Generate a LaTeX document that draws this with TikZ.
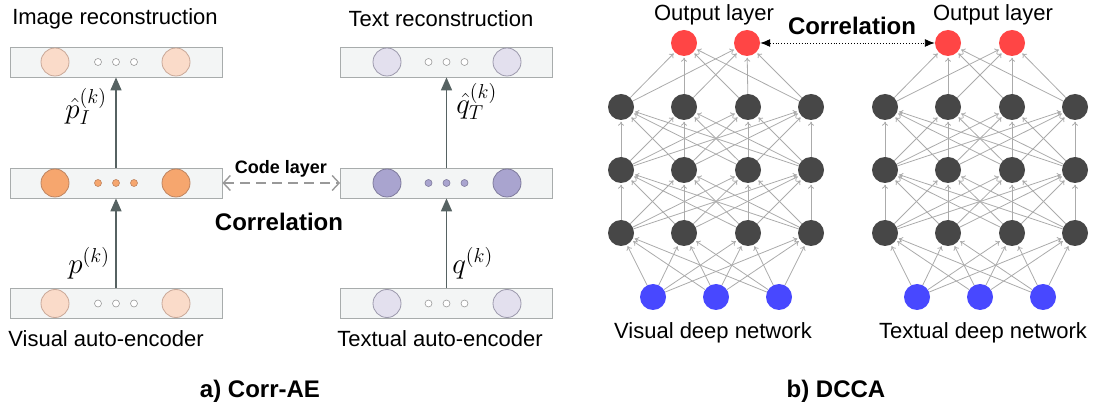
\documentclass[tikz,border=0pt]{standalone}
\usepackage{fontspec}
\setmainfont{Liberation Sans}
\usetikzlibrary{arrows.meta}
\definecolor{boxfill}{HTML}{F3F5F5}
\definecolor{boxdraw}{HTML}{A8ACAC}
\definecolor{peach}{HTML}{FADBC9}
\definecolor{peachd}{HTML}{C9A898}
\definecolor{orng}{HTML}{F6A66E}
\definecolor{orngd}{HTML}{BE8460}
\definecolor{lav}{HTML}{E3E0EE}
\definecolor{lavd}{HTML}{9C99AC}
\definecolor{purp}{HTML}{A9A4CF}
\definecolor{purpd}{HTML}{7E7A9C}
\definecolor{arrowc}{HTML}{566262}
\definecolor{hid}{HTML}{474747}
\definecolor{outc}{HTML}{FF4545}
\definecolor{inc}{HTML}{4848FF}
\definecolor{edgec}{HTML}{ABABAB}
\tikzset{
  lbl/.style={font=\fontsize{22}{26}\selectfont, inner sep=0pt},
  blbl/.style={font=\fontsize{24}{28}\selectfont\bfseries, inner sep=0pt},
  mlbl/.style={font=\fontsize{20}{24}\selectfont, inner sep=0pt, scale=1.4},
  layerbox/.style={draw=boxdraw, fill=boxfill, line width=0.8pt, minimum width=212pt, minimum height=30pt, inner sep=0pt},
  bigc/.style={circle, minimum size=28pt, inner sep=0pt, line width=0.8pt},
  smallc/.style={circle, minimum size=7pt, inner sep=0pt, line width=0.6pt},
  uparrow/.style={draw=arrowc, line width=1.6pt, -{Triangle[length=13pt,width=11pt]}},
  codearrow/.style={draw=gray!80, line width=1.4pt, dash pattern=on 10pt off 6pt, {Straight Barb[length=7pt,width=15pt]}-{Straight Barb[length=7pt,width=15pt]}},
  neuron/.style={circle, minimum size=26pt, inner sep=0pt},
  hidn/.style={neuron, fill=hid},
  outn/.style={neuron, fill=outc},
  inn/.style={neuron, fill=inc},
  edge/.style={draw=edgec, line width=0.8pt, -{To[length=4pt,width=6pt]}, shorten >=1.5pt},
  corr/.style={draw=black, line width=0.9pt, dotted, {Latex[length=10pt,width=8pt]}-{Latex[length=10pt,width=8pt]}}
}
\begin{document}
\begin{tikzpicture}[x=1pt,y=-1pt]
\useasboundingbox (0,0) rectangle (1094,411);
% ---------- a) Corr-AE ----------
\foreach \side/\cx in {L/116, R/446.5} {
  \node[layerbox] (\side1) at (\cx,62) {};
  \node[layerbox] (\side2) at (\cx,183) {};
  \node[layerbox] (\side3) at (\cx,303.5) {};
}
% circles
\foreach \b/\y in {1/62, 3/303.5} {
  \node[bigc, draw=peachd, fill=peach] (Lc\b a) at (55,\y) {};
  \node[bigc, draw=peachd, fill=peach] (Lc\b b) at (176,\y) {};
  \node[bigc, draw=lavd, fill=lav] (Rc\b a) at (387,\y) {};
  \node[bigc, draw=lavd, fill=lav] (Rc\b b) at (507,\y) {};
  \foreach \k/\dx in {1/-18, 2/0, 3/18} {
    \node[smallc, draw=gray!80, fill=white] (Ld\b\k) at (116+\dx,\y) {};
    \node[smallc, draw=gray!80, fill=white] (Rd\b\k) at (446.5+\dx,\y) {};
  }
}
\node[bigc, draw=orngd, fill=orng] (Lc2a) at (55,183) {};
\node[bigc, draw=orngd, fill=orng] (Lc2b) at (176,183) {};
\node[bigc, draw=purpd, fill=purp] (Rc2a) at (387,183) {};
\node[bigc, draw=purpd, fill=purp] (Rc2b) at (507,183) {};
\foreach \k/\dx in {1/-18, 2/0, 3/18} {
  \node[smallc, draw=orngd, fill=orng] (Ld2\k) at (116+\dx,183) {};
  \node[smallc, draw=purpd, fill=purp] (Rd2\k) at (446.5+\dx,183) {};
}
% vertical arrows
\draw[uparrow] (L2.north) -- (L1.south);
\draw[uparrow] (L3.north) -- (L2.south);
\draw[uparrow] (R2.north) -- (R1.south);
\draw[uparrow] (R3.north) -- (R2.south);
% code layer
\draw[codearrow] (L2.east) -- (R2.west);
\node[blbl, font=\fontsize{18}{22}\selectfont\bfseries] (code) at (281,169) {Code layer};
\node[blbl] (corrA) at (279,222) {Correlation};
% labels
\node[lbl] (t1) at (115,19) {Image reconstruction};
\node[lbl] (t2) at (441,19) {Text reconstruction};
\node[lbl] (t3) at (106,339) {Visual auto-encoder};
\node[lbl] (t4) at (440,339) {Textual auto-encoder};
\node[mlbl, anchor=east] (m1) at (107,106) {$\hat{p}_I^{(k)}$};
\node[mlbl, anchor=west] (m2) at (456,101) {$\hat{q}_T^{(k)}$};
\node[mlbl, anchor=east] (m3) at (110,263) {$p^{(k)}$};
\node[mlbl, anchor=west] (m4) at (452,263) {$q^{(k)}$};
\node[blbl] (capA) at (260,391) {a) Corr-AE};
% ---------- b) DCCA ----------
\foreach \net/\a/\b/\c/\d/\oa/\ob/\ia/\ib/\ic in {V/621/684/748/811/684/747/653/716/779, T/885/948/1012/1075/948/1012/917/980/1043} {
  \foreach \r/\y in {1/107, 2/170, 3/233} {
    \node[hidn] (\net h\r-1) at (\a,\y) {};
    \node[hidn] (\net h\r-2) at (\b,\y) {};
    \node[hidn] (\net h\r-3) at (\c,\y) {};
    \node[hidn] (\net h\r-4) at (\d,\y) {};
  }
  \node[outn] (\net o-1) at (\oa,43) {};
  \node[outn] (\net o-2) at (\ob,43) {};
  \node[inn] (\net i-1) at (\ia,297) {};
  \node[inn] (\net i-2) at (\ib,297) {};
  \node[inn] (\net i-3) at (\ic,297) {};
  \foreach \s in {1,2,3} \foreach \t in {1,2,3,4} \draw[edge] (\net i-\s) -- (\net h3-\t);
  \foreach \s in {1,2,3,4} \foreach \t in {1,2,3,4} {
    \draw[edge] (\net h3-\s) -- (\net h2-\t);
    \draw[edge] (\net h2-\s) -- (\net h1-\t);
  }
  \foreach \s in {1,2,3,4} \foreach \t in {1,2} \draw[edge] (\net h1-\s) -- (\net o-\t);
}
\draw[corr] (Vo-2) -- (To-1);
\node[blbl] (corrB) at (852,26) {Correlation};
\node[lbl] (ol1) at (714,15) {Output layer};
\node[lbl] (ol2) at (993,15) {Output layer};
\node[lbl] (n1) at (713,333) {Visual deep network};
\node[lbl] (n2) at (983,333) {Textual deep network};
\node[blbl] (capB) at (836,391) {b) DCCA};
\end{tikzpicture}
\end{document}
